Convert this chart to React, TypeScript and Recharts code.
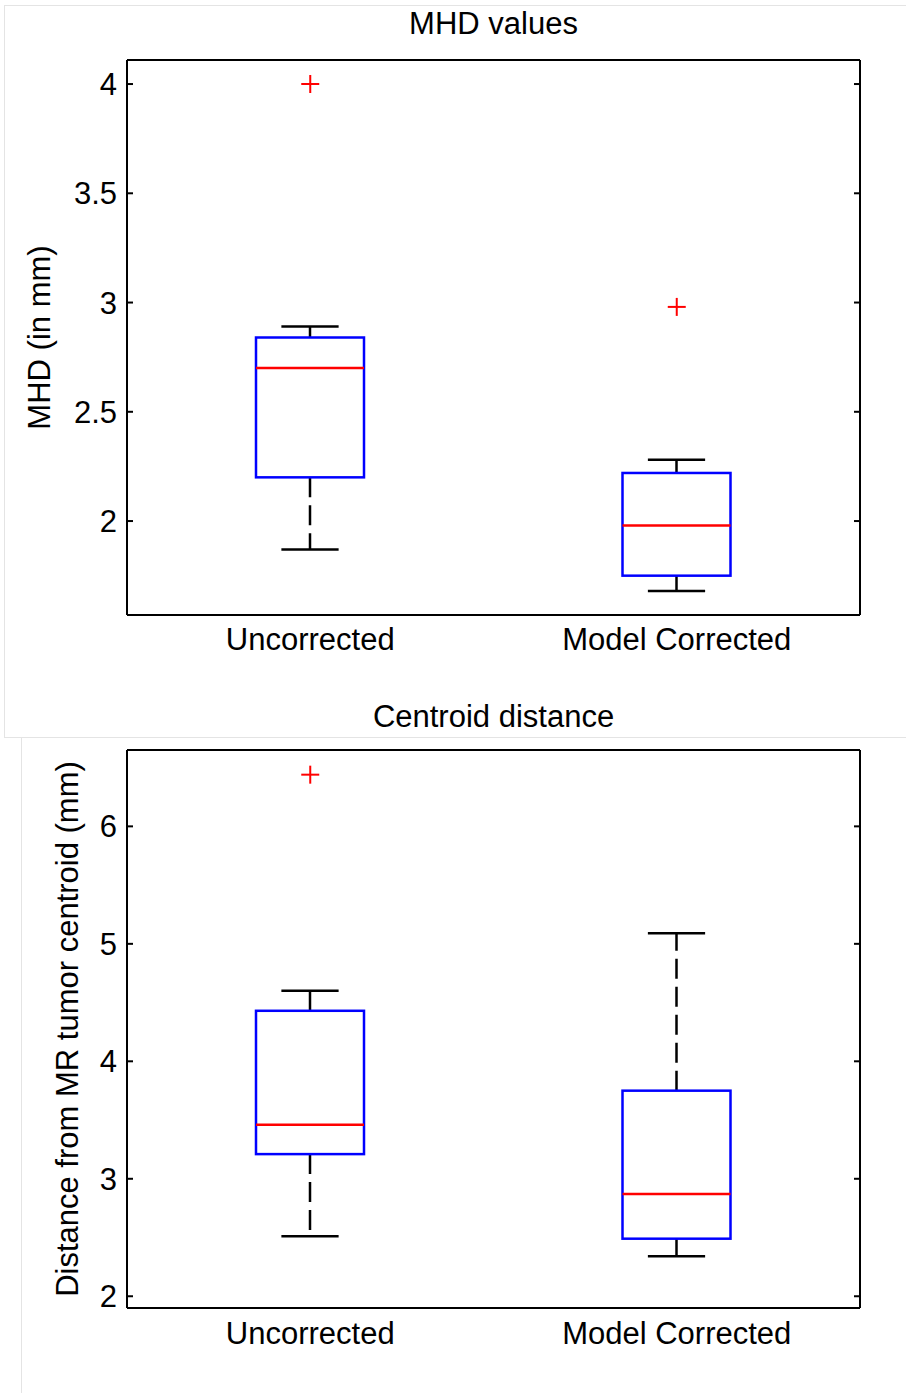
import { ComposedChart, Bar, Scatter, XAxis, YAxis } from 'recharts';

const categories = ['Uncorrected', 'Model Corrected'];

// MHD values (mm)
const mhdMin = [1.87, 1.68];
const mhdQ1 = [2.2, 1.75];
const mhdMedian = [2.7, 1.98];
const mhdQ3 = [2.84, 2.22];
const mhdMax = [2.89, 2.28];
const mhdOutlier = [4.0, 2.98];
const mhdTicks = [2, 2.5, 3, 3.5, 4];

// Centroid distance (mm)
const centroidMin = [2.51, 2.34];
const centroidQ1 = [3.21, 2.49];
const centroidMedian = [3.46, 2.87];
const centroidQ3 = [4.43, 3.75];
const centroidMax = [4.6, 5.09];
const centroidOutlier = [6.44, null];
const centroidTicks = [2, 3, 4, 5, 6];

const FONT = '"Liberation Sans", Arial, sans-serif';

const buildRows = (
  min: number[],
  q1: number[],
  median: number[],
  q3: number[],
  max: number[],
  outlier: (number | null)[]
) =>
  categories.map((name, i) => ({
    name,
    range: [min[i], max[i]],
    min: min[i],
    q1: q1[i],
    median: median[i],
    q3: q3[i],
    max: max[i],
    outlier: outlier[i],
  }));

const mhdRows = buildRows(mhdMin, mhdQ1, mhdMedian, mhdQ3, mhdMax, mhdOutlier);
const centroidRows = buildRows(centroidMin, centroidQ1, centroidMedian, centroidQ3, centroidMax, centroidOutlier);

// box + whiskers drawn inside the [min, max] range bar
const BoxShape = (props: any) => {
  const { x, y, width, height, payload } = props;
  const top = Math.min(y, y + height);
  const bottom = Math.max(y, y + height);
  const span = payload.max - payload.min;
  const toY = (v: number) => top + ((payload.max - v) / span) * (bottom - top);
  const cx = x + width / 2;
  const cap = width * 0.265;
  const yMax = toY(payload.max);
  const yQ3 = toY(payload.q3);
  const yMed = toY(payload.median);
  const yQ1 = toY(payload.q1);
  const yMin = toY(payload.min);
  return (
    <g>
      <line x1={cx} x2={cx} y1={yQ3} y2={yMax} stroke="#000" strokeWidth={2.5} strokeDasharray="20 8" />
      <line x1={cx} x2={cx} y1={yQ1} y2={yMin} stroke="#000" strokeWidth={2.5} strokeDasharray="20 8" />
      <line x1={cx - cap} x2={cx + cap} y1={yMax} y2={yMax} stroke="#000" strokeWidth={2.5} />
      <line x1={cx - cap} x2={cx + cap} y1={yMin} y2={yMin} stroke="#000" strokeWidth={2.5} />
      <rect x={x} y={yQ3} width={width} height={yQ1 - yQ3} fill="none" stroke="#0000ff" strokeWidth={2.5} />
      <line x1={x} x2={x + width} y1={yMed} y2={yMed} stroke="#ff0000" strokeWidth={2.5} />
    </g>
  );
};

const PlusShape = (props: any) => {
  const { cx, cy, payload } = props;
  if (payload == null || payload.outlier == null) return <g />;
  return (
    <g>
      <line x1={cx - 9} x2={cx + 9} y1={cy} y2={cy} stroke="#ff0000" strokeWidth={2} />
      <line x1={cx} x2={cx} y1={cy - 9} y2={cy + 9} stroke="#ff0000" strokeWidth={2} />
    </g>
  );
};

const BoxPanel = ({ rows, title, yLabel, domain, ticks, height, margin, titleOffset, labelOffset, tickGap }: any) => {
  const textStyle = { fontSize: 31, fill: '#000', fontFamily: FONT };
  return (
    <ComposedChart width={906} height={height} data={rows} margin={margin}>
      <XAxis
        dataKey="name"
        type="category"
        height={55}
        tickLine={false}
        tickSize={0}
        tickMargin={tickGap}
        axisLine={{ stroke: '#000', strokeWidth: 2 }}
        tick={textStyle}
      />
      <XAxis
        xAxisId="top"
        dataKey="name"
        type="category"
        orientation="top"
        height={1}
        tick={false}
        tickLine={false}
        axisLine={{ stroke: '#000', strokeWidth: 2 }}
        label={{ value: title, position: 'top', offset: titleOffset, style: textStyle }}
      />
      {/* negative tickSize puts the tick marks inside the frame */}
      <YAxis
        yAxisId="left"
        type="number"
        width={127}
        domain={domain}
        ticks={ticks}
        interval={0}
        allowDataOverflow
        tickSize={-6}
        tickMargin={16}
        tickLine={{ stroke: '#000', strokeWidth: 2 }}
        axisLine={{ stroke: '#000', strokeWidth: 2 }}
        tick={textStyle}
        label={{
          value: yLabel,
          angle: -90,
          position: 'insideLeft',
          offset: labelOffset,
          style: { ...textStyle, textAnchor: 'middle' },
        }}
      />
      <YAxis
        yAxisId="right"
        orientation="right"
        type="number"
        width={1}
        domain={domain}
        ticks={ticks}
        interval={0}
        allowDataOverflow
        tickSize={-6}
        tickFormatter={() => ''}
        tickLine={{ stroke: '#000', strokeWidth: 2 }}
        axisLine={{ stroke: '#000', strokeWidth: 2 }}
      />
      <Bar yAxisId="left" dataKey="range" barSize={108} shape={BoxShape} isAnimationActive={false} />
      <Scatter yAxisId="left" dataKey="outlier" shape={PlusShape} isAnimationActive={false} />
    </ComposedChart>
  );
};

export default function App() {
  return (
    <div style={{ position: 'absolute', left: 0, top: 0, width: 906, height: 1393, background: '#fff', fontFamily: FONT }}>
      {/* faint frames of the pasted figures */}
      <div style={{ position: 'absolute', left: 4, top: 5, width: 902, height: 733, borderLeft: '1px solid #e4e4e4', borderTop: '1px solid #e4e4e4', borderBottom: '1px solid #e4e4e4', boxSizing: 'border-box' }} />
      <div style={{ position: 'absolute', left: 21, top: 738, width: 1, height: 655, background: '#e4e4e4' }} />

      <div style={{ position: 'absolute', left: 0, top: 0 }}>
        <BoxPanel
          rows={mhdRows}
          title="MHD values"
          yLabel="MHD (in mm)"
          domain={[1.57, 4.11]}
          ticks={mhdTicks}
          height={680}
          margin={{ top: 59, right: 45, bottom: 10, left: 0 }}
          titleOffset={25}
          labelOffset={39}
          tickGap={13}
        />
      </div>
      <div style={{ position: 'absolute', left: 0, top: 680 }}>
        <BoxPanel
          rows={centroidRows}
          title="Centroid distance"
          yLabel="Distance from MR tumor centroid (mm)"
          domain={[1.9, 6.65]}
          ticks={centroidTicks}
          height={713}
          margin={{ top: 69, right: 45, bottom: 30, left: 0 }}
          titleOffset={22}
          labelOffset={67}
          tickGap={14}
        />
      </div>
    </div>
  );
}
